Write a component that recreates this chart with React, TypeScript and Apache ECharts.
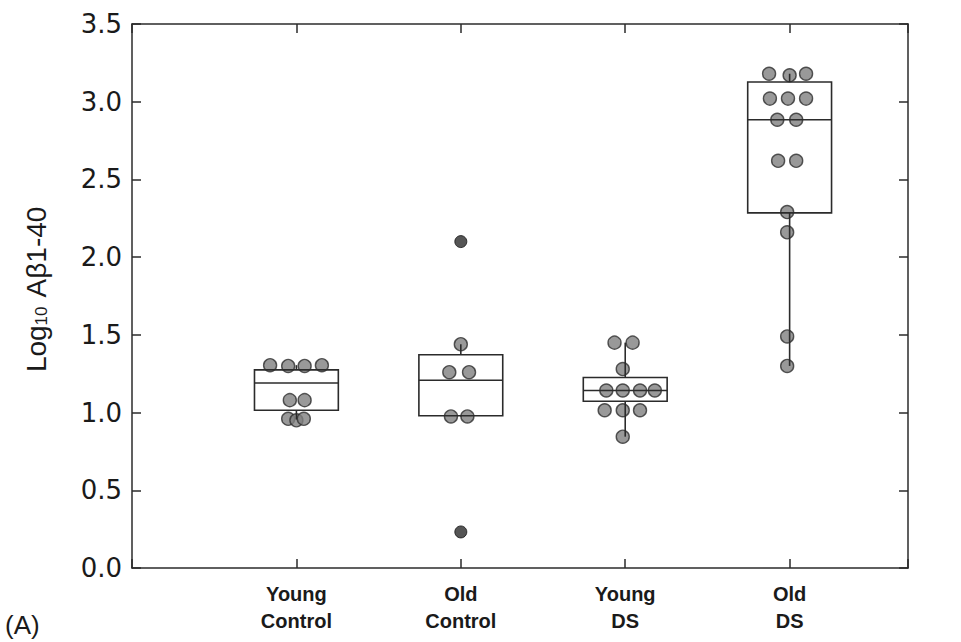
import React, { useEffect, useRef } from "react";
import * as echarts from "echarts";

// Group labels (positions 1..4 on the x scale)
const categories = ["Young\nControl", "Old\nControl", "Young\nDS", "Old\nDS"];

// Box summaries per group (log10 Aβ1-40)
const q1Values = [1.015, 0.98, 1.073, 2.285];
const medianValues = [1.19, 1.208, 1.142, 2.884];
const q3Values = [1.275, 1.372, 1.226, 3.127];
const whiskerLow = [0.955, 0.975, 0.845, 1.3];
const whiskerHigh = [1.305, 1.44, 1.45, 3.18];

// Individual subjects: [horizontal jitter, value]
const youngControlPoints = [
  [-0.16, 1.305], [-0.05, 1.3], [0.05, 1.3], [0.155, 1.305],
  [-0.04, 1.08], [0.05, 1.08],
  [-0.05, 0.96], [0.0, 0.95], [0.045, 0.96],
];
const oldControlPoints = [
  [0.0, 1.44],
  [-0.07, 1.26], [0.05, 1.26],
  [-0.06, 0.975], [0.04, 0.975],
];
const oldControlOutliers = [
  [0.0, 2.1],
  [0.0, 0.232],
];
const youngDsPoints = [
  [-0.065, 1.45], [0.045, 1.45],
  [-0.015, 1.28],
  [-0.115, 1.142], [-0.015, 1.142], [0.09, 1.142], [0.18, 1.142],
  [-0.125, 1.015], [-0.015, 1.015], [0.09, 1.015],
  [-0.015, 0.845],
];
const oldDsPoints = [
  [-0.125, 3.18], [0.0, 3.17], [0.1, 3.18],
  [-0.12, 3.02], [-0.01, 3.02], [0.1, 3.02],
  [-0.075, 2.884], [0.04, 2.884],
  [-0.07, 2.62], [0.04, 2.62],
  [-0.015, 2.29],
  [-0.015, 2.16],
  [-0.015, 1.49],
  [-0.015, 1.3],
];

const yTicks = ["0.0", "0.5", "1.0", "1.5", "2.0", "2.5", "3.0", "3.5"];

const groupPoints = [youngControlPoints, oldControlPoints, youngDsPoints, oldDsPoints];

const BOX_WIDTH = 0.51;
const INK = "#2b2b2b";

export default function App() {
  const ref = useRef<HTMLDivElement | null>(null);

  useEffect(() => {
    if (!ref.current) return;
    const chart = echarts.init(ref.current, null, { renderer: "svg" });

    const pointData: number[][] = [];
    groupPoints.forEach((pts, gi) => {
      pts.forEach(([dx, v]) => pointData.push([gi + 1 + dx, v]));
    });
    const outlierData = oldControlOutliers.map(([dx, v]) => [2 + dx, v]);

    const boxData = categories.map((_, i) => [
      i + 1,
      q1Values[i],
      medianValues[i],
      q3Values[i],
      whiskerLow[i],
      whiskerHigh[i],
    ]);

    const labelFont = "'Liberation Sans', Arial, sans-serif";
    const tick = { show: true, inside: true, length: 9, lineStyle: { color: INK, width: 1.5 } };
    const frameLine = { show: true, onZero: false, lineStyle: { color: INK, width: 1.5 } };

    const option: any = {
      animation: false,
      backgroundColor: "#ffffff",
      grid: {
        left: 132,
        right: 53,
        top: 24,
        bottom: 74,
        show: false,
      },
      xAxis: [
        {
          type: "value",
          min: 0,
          max: 4.72,
          interval: 1,
          position: "bottom",
          axisLine: frameLine,
          splitLine: { show: false },
          axisTick: tick,
          axisLabel: {
            show: true,
            margin: 12,
            fontFamily: "'Liberation Sans Narrow', 'Liberation Sans', Arial, sans-serif",
            fontWeight: "bold",
            fontSize: 20,
            lineHeight: 27,
            color: "#1a1a1a",
            formatter: (v: number) => (v >= 1 && v <= 4 ? categories[Math.round(v) - 1] : ""),
          },
        },
        {
          type: "value",
          min: 0,
          max: 4.72,
          interval: 1,
          position: "top",
          axisLine: frameLine,
          splitLine: { show: false },
          axisTick: tick,
          axisLabel: { show: false },
        },
      ],
      yAxis: [
        {
          type: "value",
          min: 0,
          max: 3.5,
          interval: 0.5,
          position: "left",
          axisLine: frameLine,
          splitLine: { show: false },
          axisTick: tick,
          axisLabel: {
            margin: 10,
            fontFamily: "'DejaVu Sans', sans-serif",
            fontSize: 26,
            color: "#1a1a1a",
            formatter: (v: number) => yTicks[Math.round(v / 0.5)] ?? "",
          },
          name: "{t|Log}{s|10}{t| Aβ1-40}",
          nameLocation: "middle",
          nameGap: 82,
          nameRotate: 90,
          nameTextStyle: {
            padding: [0, 0, 0, 14],
            rich: {
              t: { fontFamily: labelFont, fontSize: 28, color: "#1a1a1a" },
              s: { fontFamily: labelFont, fontSize: 17, color: "#1a1a1a", verticalAlign: "bottom", padding: [10, 2, 0, 0] },
            },
          },
        },
        {
          type: "value",
          min: 0,
          max: 3.5,
          interval: 0.5,
          position: "right",
          axisLine: frameLine,
          splitLine: { show: false },
          axisTick: tick,
          axisLabel: { show: false },
        },
      ],
      series: [
        {
          type: "scatter",
          xAxisIndex: 0,
          yAxisIndex: 0,
          symbol: "circle",
          symbolSize: 13,
          data: pointData,
          itemStyle: { color: "#808080", borderColor: "#2e2e2e", borderWidth: 1.4 },
          z: 2,
        },
        {
          type: "scatter",
          xAxisIndex: 0,
          yAxisIndex: 0,
          symbol: "circle",
          symbolSize: 12,
          data: outlierData,
          itemStyle: { color: "#2a2a2a", borderColor: "#111111", borderWidth: 1 },
          z: 2,
        },
        {
          type: "custom",
          xAxisIndex: 0,
          yAxisIndex: 0,
          data: boxData,
          encode: { x: 0, y: [1, 2, 3, 4, 5] },
          z: 3,
          renderItem: (_params: any, api: any) => {
            const x = api.value(0);
            const pQ1 = api.coord([x, api.value(1)]);
            const pMed = api.coord([x, api.value(2)]);
            const pQ3 = api.coord([x, api.value(3)]);
            const pLow = api.coord([x, api.value(4)]);
            const pHigh = api.coord([x, api.value(5)]);
            const half = api.size([BOX_WIDTH, 0])[0] / 2;
            const stroke = { stroke: INK, lineWidth: 1.6, fill: "none" };
            return {
              type: "group",
              children: [
                {
                  type: "line",
                  shape: { x1: pQ1[0], y1: pQ1[1], x2: pLow[0], y2: pLow[1] },
                  style: stroke,
                },
                {
                  type: "line",
                  shape: { x1: pQ3[0], y1: pQ3[1], x2: pHigh[0], y2: pHigh[1] },
                  style: stroke,
                },
                {
                  type: "rect",
                  shape: { x: pQ3[0] - half, y: pQ3[1], width: half * 2, height: pQ1[1] - pQ3[1] },
                  style: stroke,
                },
                {
                  type: "line",
                  shape: { x1: pMed[0] - half, y1: pMed[1], x2: pMed[0] + half, y2: pMed[1] },
                  style: stroke,
                },
              ],
            };
          },
        },
      ],
      graphic: [
        {
          type: "text",
          left: 5,
          top: 612,
          style: { text: "(A)", fontFamily: labelFont, fontSize: 26, fill: "#1a1a1a" },
        },
      ],
    };

    chart.setOption(option);
    return () => chart.dispose();
  }, []);

  return (
    <div
      ref={ref}
      style={{ position: "fixed", left: 0, top: 0, width: 961, height: 642, background: "#fff" }}
    />
  );
}
